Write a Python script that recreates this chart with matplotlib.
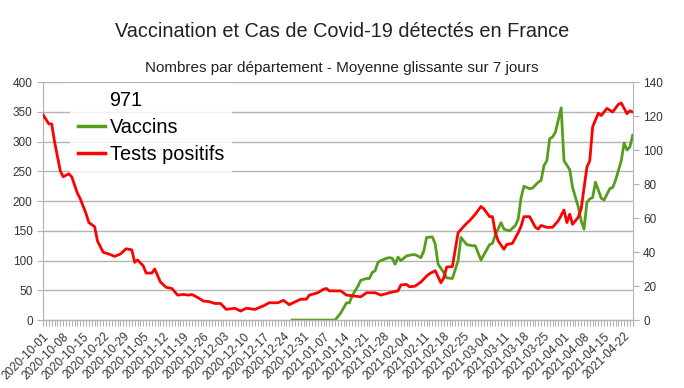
import numpy as np
import pandas as pd
import matplotlib
matplotlib.use("Agg")
import matplotlib.pyplot as plt
import matplotlib.dates as mdates
from matplotlib.lines import Line2D

plt.rcParams['font.family'] = ['Liberation Sans', 'DejaVu Sans']

# Tests positifs (right axis, 0-140)
tests_dates = [
    "2020-10-01", "2020-10-03", "2020-10-04", "2020-10-05", "2020-10-07", "2020-10-08",
    "2020-10-10", "2020-10-11", "2020-10-13", "2020-10-14", "2020-10-16", "2020-10-17",
    "2020-10-19", "2020-10-20", "2020-10-22", "2020-10-24", "2020-10-26", "2020-10-28",
    "2020-10-30", "2020-11-01", "2020-11-02", "2020-11-03", "2020-11-05", "2020-11-06",
    "2020-11-08", "2020-11-09", "2020-11-11", "2020-11-13", "2020-11-15", "2020-11-17",
    "2020-11-19", "2020-11-21", "2020-11-22", "2020-11-24", "2020-11-26", "2020-11-28",
    "2020-11-30", "2020-12-02", "2020-12-04", "2020-12-07", "2020-12-09", "2020-12-11",
    "2020-12-14", "2020-12-17", "2020-12-19", "2020-12-22", "2020-12-24", "2020-12-26",
    "2020-12-30", "2021-01-01", "2021-01-02", "2021-01-05", "2021-01-07", "2021-01-08",
    "2021-01-09", "2021-01-13", "2021-01-15", "2021-01-20", "2021-01-22", "2021-01-25",
    "2021-01-27", "2021-01-30", "2021-02-02", "2021-02-03", "2021-02-05", "2021-02-06",
    "2021-02-08", "2021-02-10", "2021-02-12", "2021-02-13", "2021-02-15", "2021-02-17",
    "2021-02-18", "2021-02-19", "2021-02-21", "2021-02-23", "2021-02-26", "2021-02-27",
    "2021-03-01", "2021-03-03", "2021-03-04", "2021-03-06", "2021-03-07", "2021-03-08",
    "2021-03-09", "2021-03-11", "2021-03-12", "2021-03-14", "2021-03-16", "2021-03-17",
    "2021-03-18", "2021-03-20", "2021-03-22", "2021-03-23", "2021-03-24", "2021-03-26",
    "2021-03-28", "2021-03-30", "2021-03-31", "2021-04-01", "2021-04-02", "2021-04-03",
    "2021-04-04", "2021-04-06", "2021-04-07", "2021-04-09", "2021-04-10", "2021-04-11",
    "2021-04-13", "2021-04-14", "2021-04-16", "2021-04-18", "2021-04-20", "2021-04-21",
    "2021-04-23", "2021-04-24", "2021-04-25",
]
tests_values = [
    120.8, 115.5, 115.5, 105.0, 87.9, 84.4,
    86.1, 84.4, 74.6, 71.4, 62.7, 57.4,
    55.0, 46.6, 39.9, 38.9, 37.5, 38.9,
    42.0, 41.3, 34.0, 35.4, 31.9, 27.7,
    27.7, 30.1, 22.4, 19.3, 18.6, 14.7,
    15.1, 14.7, 15.1, 13.3, 11.2, 10.9,
    9.8, 9.8, 6.3, 7.0, 5.3, 7.0,
    6.3, 8.4, 10.2, 10.2, 11.6, 9.1,
    12.3, 12.3, 14.7, 16.1, 18.2, 18.6,
    17.2, 17.2, 14.7, 13.7, 16.1, 16.1,
    14.7, 16.1, 17.2, 20.7, 21.0, 19.6,
    20.0, 22.4, 25.9, 27.3, 29.1, 22.0,
    24.9, 31.2, 31.5, 51.5, 57.0, 58.5,
    62.3, 66.9, 65.5, 60.9, 60.9, 51.5,
    46.6, 41.7, 44.5, 45.2, 51.5, 55.3,
    60.9, 60.9, 54.6, 53.6, 55.7, 54.6,
    54.6, 58.5, 61.6, 64.8, 57.4, 62.3,
    56.4, 60.6, 65.5, 90.0, 93.8, 113.8,
    121.8, 120.4, 124.6, 122.5, 127.0, 127.8,
    121.5, 123.2, 122.5,
]

# Vaccins (left axis, 0-400)
vacc_dates = [
    "2020-12-27", "2021-01-11", "2021-01-13", "2021-01-15", "2021-01-16", "2021-01-17",
    "2021-01-19", "2021-01-20", "2021-01-22", "2021-01-23", "2021-01-24", "2021-01-25",
    "2021-01-26", "2021-01-27", "2021-01-29", "2021-01-30", "2021-01-31", "2021-02-01",
    "2021-02-02", "2021-02-03", "2021-02-05", "2021-02-07", "2021-02-08", "2021-02-10",
    "2021-02-11", "2021-02-12", "2021-02-14", "2021-02-15", "2021-02-16", "2021-02-18",
    "2021-02-19", "2021-02-21", "2021-02-23", "2021-02-24", "2021-02-26", "2021-02-28",
    "2021-03-01", "2021-03-03", "2021-03-06", "2021-03-07", "2021-03-08", "2021-03-10",
    "2021-03-11", "2021-03-13", "2021-03-15", "2021-03-16", "2021-03-17", "2021-03-18",
    "2021-03-20", "2021-03-21", "2021-03-23", "2021-03-24", "2021-03-25", "2021-03-26",
    "2021-03-27", "2021-03-28", "2021-03-29", "2021-03-31", "2021-04-01", "2021-04-03",
    "2021-04-04", "2021-04-06", "2021-04-07", "2021-04-08", "2021-04-09", "2021-04-10",
    "2021-04-11", "2021-04-12", "2021-04-14", "2021-04-15", "2021-04-17", "2021-04-18",
    "2021-04-19", "2021-04-21", "2021-04-22", "2021-04-23", "2021-04-24", "2021-04-25",
]
vacc_values = [
    0, 0, 12, 29, 29, 41,
    57, 67, 70, 70, 80, 83,
    97, 100, 104, 105, 104, 94,
    106, 100, 108, 110, 110, 105,
    116, 139, 140, 128, 94, 80,
    71, 70, 100, 139, 127, 125,
    125, 101, 127, 129, 143, 164,
    153, 150, 159, 170, 206, 225,
    221, 222, 232, 235, 260, 268,
    305, 308, 316, 357, 268, 253,
    223, 190, 167, 153, 198, 204,
    206, 232, 205, 202, 221, 223,
    235, 268, 298, 286, 291, 311,
]

left_ticks = [0, 50, 100, 150, 200, 250, 300, 350, 400]
right_ticks = [0, 20, 40, 60, 80, 100, 120, 140]
start, end = pd.Timestamp("2020-10-01"), pd.Timestamp("2021-04-25")
week_ticks = pd.date_range(start, "2021-04-22", freq="7D")

grid_c = "#b3b3b3"
text_c = "#333333"

fig = plt.figure(figsize=(6.84, 3.88), dpi=100)
ax = fig.add_axes([0.063, 0.175, 0.862, 0.613])
ax2 = ax.twinx()

ax.plot(pd.to_datetime(vacc_dates), vacc_values, color="#579d1c", lw=2.0,
        label="Vaccins", solid_joinstyle="round")
ax2.plot(pd.to_datetime(tests_dates), tests_values, color="#ff0000", lw=2.0,
         label="Tests positifs", solid_joinstyle="round")

ax.set_xlim(start, end)
ax.set_ylim(0, 400)
ax2.set_ylim(0, 140)
ax.set_yticks(left_ticks)
ax2.set_yticks(right_ticks)
ax.yaxis.grid(True, color=grid_c, lw=1)
ax.set_axisbelow(True)

ax.set_xticks(week_ticks)
ax.set_xticklabels([d.strftime("%Y-%m-%d") for d in week_ticks],
                   rotation=45, ha="right", rotation_mode="anchor")
ax.xaxis.set_minor_locator(mdates.DayLocator())

for a in (ax, ax2):
    a.spines["top"].set_visible(False)
    for s in ("left", "right", "bottom"):
        a.spines[s].set_color(grid_c)
    a.tick_params(axis="both", which="both", colors=grid_c, labelcolor=text_c,
                  labelsize=8.5, length=4, width=0.8)
ax2.spines["left"].set_visible(False)
ax.spines["right"].set_visible(False)

# legend: "971" as a first row without a visible handle
h1, l1 = ax.get_legend_handles_labels()
h2, l2 = ax2.get_legend_handles_labels()
blank = Line2D([], [], color="none")
leg = ax2.legend([blank] + h1 + h2, ["971"] + l1 + l2, loc="upper left",
                 bbox_to_anchor=(0.045, 0.995), frameon=True, fancybox=False,
                 fontsize=14.3, handlelength=1.36, handletextpad=0.25,
                 borderpad=0.4, labelspacing=0.4, borderaxespad=0)
leg.get_frame().set_edgecolor("none")
leg.get_frame().set_facecolor("white")
leg.get_frame().set_alpha(0.85)
for line in leg.get_lines():
    line.set_linewidth(2.5)

fig.text(0.5, 0.92, "Vaccination et Cas de Covid-19 détectés en France",
         ha="center", va="center", fontsize=14.3, color="#222222")
fig.text(0.5, 0.825, "Nombres par département - Moyenne glissante sur 7 jours",
         ha="center", va="center", fontsize=11, color="#222222")

fig.savefig("out.png", dpi=100)
